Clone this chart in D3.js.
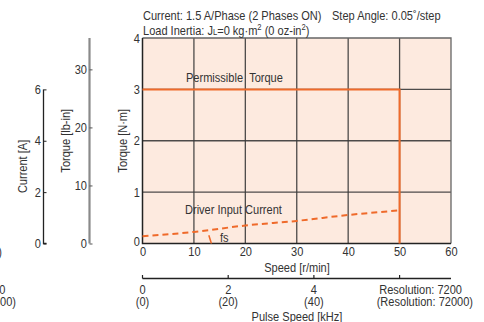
<!DOCTYPE html>
<html>
<head>
<meta charset="utf-8">
<script src="https://cdn.jsdelivr.net/npm/d3@7"></script>
<style>
  html, body { margin: 0; padding: 0; background: #fff; }
  svg { display: block; }
  text { font-family: "Liberation Sans", Arial, sans-serif; fill: #333; font-size: 13px; }
</style>
</head>
<body>
<svg id="chart" width="484" height="322"></svg>
<script>
// Axis ticks
const speedTicks = [0, 10, 20, 30, 40, 50, 60];          // r/min
const torqueNmTicks = [0, 1, 2, 3, 4];                  // N·m
const torqueLbinTicks = [0, 10, 20, 30];                // lb-in
const currentTicks = [0, 2, 4, 6];                      // A
const pulseTicks = [0, 2, 4];                           // kHz
const pulseTickLabels = ["(0)", "(20)", "(40)"];
const resolutionTick = 6;                               // kHz at 50 r/min, resolution 7200
const resolutionLabels = ["Resolution: 7200", "(Resolution: 72000)"];

// Permissible torque envelope
const permSpeed = [0, 50, 50];
const permTorque = [3, 3, 0];

// Driver input current (A)
const driverSpeed = [0, 10, 20, 30, 40, 50];
const driverCurrent = [0.28, 0.45, 0.70, 0.88, 1.11, 1.29];

// fs marker
const fsSpeed = [12.9, 13.4];
const fsTorque = [0.16, 0];

const NM_TO_LBIN = 8.851;
const orange = "#ef6a2a";
const NARROW = 0.85;   // horizontal squeeze for a condensed look

const svg = d3.select("#chart");

// Condensed text helper
function label(parent, x, y, str, anchor = "start", rotate = 0) {
  return parent.append("text")
    .attr("transform", `translate(${x},${y})${rotate ? ` rotate(${rotate})` : ""} scale(${NARROW},1)`)
    .attr("text-anchor", anchor)
    .text(str);
}

const x = d3.scaleLinear().domain([0, 60]).range([142.5, 451]);
const y = d3.scaleLinear().domain([0, 4]).range([243.5, 38]);
const yLb = d3.scaleLinear().domain([0, 4 * NM_TO_LBIN]).range([243.5, 38]);
const yA = d3.scaleLinear().domain([0, 8]).range([243.5, 38]);
const xP = d3.scaleLinear().domain([0, 6]).range([x(0), x(50)]);
const fmt = d3.format("d");

// Plot background
svg.append("rect")
  .attr("x", x(0)).attr("y", y(4))
  .attr("width", x(60) - x(0)).attr("height", y(0) - y(4))
  .attr("fill", "#fdeadf");

// Grid
const grid = svg.append("g");
grid.selectAll("line.v").data(speedTicks.slice(1, -1)).join("line")
  .attr("x1", d => x(d)).attr("x2", d => x(d))
  .attr("y1", y(4)).attr("y2", y(0))
  .attr("stroke", "#3a3a3a").attr("stroke-width", 1.3).attr("stroke-opacity", 0.9);
grid.selectAll("line.h").data(torqueNmTicks.slice(1, -1)).join("line")
  .attr("x1", x(0)).attr("x2", x(60))
  .attr("y1", d => y(d)).attr("y2", d => y(d))
  .attr("stroke", "#3a3a3a").attr("stroke-width", 1.3).attr("stroke-opacity", 0.9);

// Frame: top/right grey, left/bottom dark
svg.append("path")
  .attr("d", `M${x(0)},${y(4)}H${x(60)}V${y(0)}`)
  .attr("fill", "none").attr("stroke", "#666").attr("stroke-width", 1.3);
svg.append("path")
  .attr("d", `M${x(0)},${y(4)}V${y(0)}H${x(60)}`)
  .attr("fill", "none").attr("stroke", "#222").attr("stroke-width", 1.5);

// Main axes (labels only)
const xAxis = d3.axisBottom(x).tickValues(speedTicks).tickFormat(fmt).tickSize(0);
const gx = svg.append("g").attr("transform", `translate(0,${y(0)})`).call(xAxis);
gx.select(".domain").remove();
gx.selectAll("text").attr("font-size", 13).attr("fill", "#333")
  .attr("y", 3).attr("dy", "0.71em").attr("transform", `scale(${NARROW},1)`);

const yAxis = d3.axisLeft(y).tickValues(torqueNmTicks).tickFormat(fmt).tickSize(0).tickPadding(3);
const gy = svg.append("g").attr("transform", `translate(${x(0)},0)`).call(yAxis);
gy.select(".domain").remove();
gy.selectAll("text").attr("font-size", 13).attr("fill", "#333").attr("transform", `scale(${NARROW},1)`);
gy.selectAll(".tick").filter(d => d === 0).select("text").attr("dy", "0.15em");

// Torque [lb-in] axis
const lbAxis = d3.axisRight(yLb).tickValues(torqueLbinTicks).tickFormat(fmt).tickSize(3);
const glb = svg.append("g").attr("transform", "translate(89.5,0)").call(lbAxis);
glb.select(".domain").attr("stroke", "#8a8a8a").attr("stroke-width", 2.2)
  .attr("d", `M0,${yLb(4 * NM_TO_LBIN)}V${yLb(0)}`);
glb.selectAll(".tick line").attr("stroke", "#555");
glb.selectAll("text").attr("text-anchor", "end").attr("x", -3).attr("font-size", 13)
  .attr("fill", "#333").attr("transform", `scale(${NARROW},1)`);

// Current [A] axis
const aAxis = d3.axisRight(yA).tickValues(currentTicks).tickFormat(fmt).tickSize(3);
const ga = svg.append("g").attr("transform", "translate(43.5,0)").call(aAxis);
ga.select(".domain").attr("stroke", "#222").attr("stroke-width", 1.3)
  .attr("d", `M0,${yA(6)}V${yA(0)}H3`);
ga.selectAll(".tick line").attr("stroke", "#222");
ga.selectAll("text").attr("text-anchor", "end").attr("x", -3).attr("font-size", 13)
  .attr("fill", "#333").attr("transform", `scale(${NARROW},1)`);

// Axis titles
label(svg, 126.5, (y(0) + y(4)) / 2, "Torque [N·m]", "middle", -90);
label(svg, 69.5, (y(0) + y(4)) / 2, "Torque [lb-in]", "middle", -90);
label(svg, 26.5, (yA(0) + yA(6)) / 2, "Current [A]", "middle", -90);
label(svg, 297, 271.5, "Speed [r/min]", "middle");

// Pulse speed axis
const pAxisY = 278.5;
const gp = svg.append("g");
gp.append("line").attr("x1", x(0)).attr("x2", x(60)).attr("y1", pAxisY).attr("y2", pAxisY)
  .attr("stroke", "#222").attr("stroke-width", 1.3);
gp.selectAll("line.t").data(pulseTicks.concat([resolutionTick])).join("line")
  .attr("x1", d => xP(d)).attr("x2", d => xP(d))
  .attr("y1", pAxisY).attr("y2", pAxisY - 3.5)
  .attr("stroke", "#222").attr("stroke-width", 1.2);
pulseTicks.forEach((d, i) => {
  label(gp, xP(d), 293.5, fmt(d), "middle");
  label(gp, xP(d), 305.5, pulseTickLabels[i], "middle");
});
label(gp, 462, 293.5, resolutionLabels[0], "end");
label(gp, 473, 305.5, resolutionLabels[1], "end");
label(svg, 297, 320.5, "Pulse Speed [kHz]", "middle");

// Neighbouring panel's labels at the left edge
label(svg, 2, 256, ")", "end");
label(svg, 5.5, 293.5, resolutionLabels[0], "end");
label(svg, 16, 305.5, resolutionLabels[1], "end");

// Permissible torque
const line = d3.line().x(d => x(d[0])).y(d => y(d[1]));
svg.append("path")
  .datum(permSpeed.map((s, i) => [s, permTorque[i]]))
  .attr("d", line).attr("fill", "none").attr("stroke", orange).attr("stroke-width", 2);

// Driver input current (dashed)
const lineA = d3.line().x(d => x(d[0])).y(d => yA(d[1])).curve(d3.curveMonotoneX);
svg.append("path")
  .datum(driverSpeed.map((s, i) => [s, driverCurrent[i]]))
  .attr("d", lineA).attr("fill", "none").attr("stroke", orange)
  .attr("stroke-width", 2).attr("stroke-dasharray", "6,4");

// fs marker
svg.append("path")
  .datum(fsSpeed.map((s, i) => [s, fsTorque[i]]))
  .attr("d", line).attr("fill", "none").attr("stroke", orange).attr("stroke-width", 1.5);

// In-plot labels
label(svg, 186, 81.5, "Permissible\u00a0\u00a0Torque");
label(svg, 185, 213.5, "Driver Input Current");
label(svg, 220, 241.5, "fs");

// Header
label(svg, 143, 19.5, "Current: 1.5 A/Phase (2 Phases ON)");
label(svg, 332, 19.5, "Step Angle: 0.05˚/step");
const t2 = label(svg, 143, 34.5, "");
t2.append("tspan").text("Load Inertia: J");
t2.append("tspan").attr("font-size", 9).text("L");
t2.append("tspan").text("=0 kg·m");
t2.append("tspan").attr("font-size", 9).attr("dy", -5).text("2");
t2.append("tspan").attr("dy", 5).text(" (0 oz-in");
t2.append("tspan").attr("font-size", 9).attr("dy", -5).text("2");
t2.append("tspan").attr("dy", 5).text(")");
</script>
</body>
</html>
